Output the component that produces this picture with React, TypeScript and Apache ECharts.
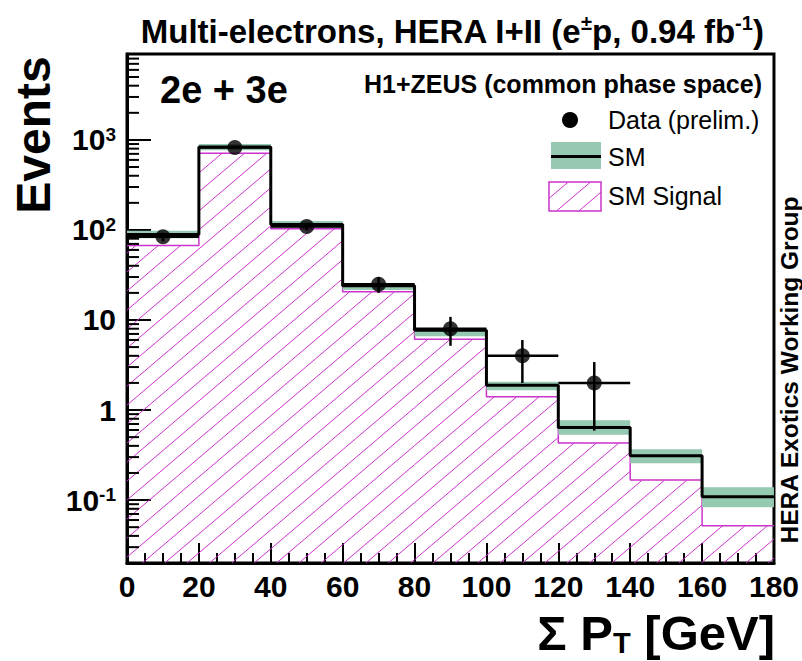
import React, { useEffect, useRef } from 'react';
import * as echarts from 'echarts';

// ---- data ----
const binEdges = [0, 20, 40, 60, 80, 100, 120, 140, 160, 180];
const smTotal = [89, 833, 115, 24, 7.7, 1.88, 0.64, 0.31, 0.109];
const smLow = [81, 770, 106, 21.5, 6.6, 1.66, 0.53, 0.256, 0.083];
const smHigh = [98, 900, 126, 25.5, 8.0, 2.06, 0.77, 0.366, 0.139];
const smSignal = [67, 711, 103, 20.6, 6.1, 1.4, 0.43, 0.167, 0.052];
const dataX = [10, 30, 50, 70, 90, 110, 130];
const dataY = [84, 825, 109, 25, 8, 4, 2];
const dataErr = [9.2, 28.7, 10.4, 5.0, 2.83, 2.0, 1.41];
const dataXErr = [10, 10, 10, 10, 10, 10, 10];
const yMajorLabels: Record<string, string> = {
  '-1': '{b|10}{s|-1}',
  '0': '{b|1}',
  '1': '{b|10}',
  '2': '{b|10}{s|2}',
  '3': '{b|10}{s|3}',
};

const Y_MIN = 0.02;
const Y_MAX = 9000;
const FONT = 'Liberation Sans, Arial, Helvetica, sans-serif';
const MAGENTA = '#cc33cc';
const GREEN = '#95c9b1';

// hatch geometry (pixel space), "///" lines
const HT = 0.85;
const HS = 19;
function hatchSegments(x0: number, x1: number, yT: number, yB: number) {
  const segs: number[][] = [];
  const kStart = Math.ceil((yT + HT * x0) / HS);
  const kEnd = Math.floor((yB + HT * x1) / HS);
  for (let k = kStart; k <= kEnd; k++) {
    const c = k * HS;
    const xa = Math.max(x0, (c - yB) / HT);
    const xb = Math.min(x1, (c - yT) / HT);
    if (xb - xa > 0.5) segs.push([xa, c - HT * xa, xb, c - HT * xb]);
  }
  return segs;
}

function minorTickValues() {
  const out: number[] = [];
  for (let e = -2; e <= 3; e++) {
    for (let m = 2; m <= 9; m++) {
      const v = m * Math.pow(10, e);
      if (v > Y_MIN * 1.01 && v < Y_MAX * 0.999) out.push(v);
    }
  }
  return out;
}

function stepData(vals: number[]) {
  const d = vals.map((v, i) => [binEdges[i], v]);
  d.push([binEdges[binEdges.length - 1], vals[vals.length - 1]]);
  return d;
}

export default function App() {
  const ref = useRef<HTMLDivElement>(null);
  useEffect(() => {
    if (!ref.current) return;
    const chart = echarts.init(ref.current, null, { renderer: 'svg' });

    const legendHatch = hatchSegments(549, 601, 182, 211).map((s) => ({
      type: 'line',
      shape: { x1: s[0], y1: s[1], x2: s[2], y2: s[3] },
      style: { stroke: MAGENTA, lineWidth: 1 },
      z: 100,
    }));

    const option: any = {
      animation: false,
      backgroundColor: '#fff',
      grid: {
        left: 127,
        right: 27,
        top: 54,
        bottom: 98,
        show: true,
        borderColor: '#000',
        borderWidth: 3,
        backgroundColor: 'transparent',
      },
      xAxis: {
        type: 'value',
        min: 0,
        max: 180,
        interval: 20,
        axisLine: { show: true, lineStyle: { color: '#000', width: 3 } },
        axisTick: { show: true, inside: true, length: 20, lineStyle: { color: '#000', width: 2 } },
        minorTick: { show: true, splitNumber: 4, length: 10, lineStyle: { color: '#000', width: 2 } },
        splitLine: { show: false },
        axisLabel: {
          fontSize: 30,
          fontWeight: 'bold',
          color: '#000',
          fontFamily: FONT,
          margin: 8,
        },
      },
      yAxis: {
        type: 'log',
        logBase: 10,
        min: Y_MIN,
        max: Y_MAX,
        axisLine: { show: true, lineStyle: { color: '#000', width: 3 } },
        axisTick: { show: true, inside: true, length: 24, lineStyle: { color: '#000', width: 2 } },
        splitLine: { show: false },
        axisLabel: {
          margin: 11,
          formatter: (v: number) => {
            const l = Math.log10(v);
            const r = Math.round(l);
            if (Math.abs(l - r) > 1e-6) return '';
            return yMajorLabels[String(r)] || '';
          },
          rich: {
            b: { fontSize: 30, fontWeight: 'bold', color: '#000', fontFamily: FONT, lineHeight: 30, verticalAlign: 'bottom' },
            s: { fontSize: 19, fontWeight: 'bold', color: '#000', fontFamily: FONT, lineHeight: 19, verticalAlign: 'top', padding: [0, 0, 4, 0] },
          },
        },
      },
      series: [
        {
          type: 'custom',
          name: 'hatch',
          z: 1,
          clip: true,
          data: smSignal.map((v, i) => [binEdges[i], binEdges[i + 1], v]),
          encode: { x: [0, 1], y: 2 },
          renderItem: (params: any, api: any) => {
            const x0 = api.value(0);
            const x1 = api.value(1);
            const v = api.value(2);
            const pL = api.coord([x0, v]);
            const pR = api.coord([x1, v]);
            const cs = params.coordSys;
            const yB = cs.y + cs.height;
            const segs = hatchSegments(pL[0], pR[0], pL[1], yB);
            return {
              type: 'group',
              children: segs.map((s) => ({
                type: 'line',
                shape: { x1: s[0], y1: s[1], x2: s[2], y2: s[3] },
                style: { stroke: MAGENTA, lineWidth: 1 },
              })),
            };
          },
        },
        {
          type: 'line',
          name: 'SM Signal',
          z: 2,
          step: 'end',
          symbol: 'none',
          data: stepData(smSignal),
          lineStyle: { color: MAGENTA, width: 1.5 },
        },
        {
          type: 'custom',
          name: 'band',
          z: 3,
          data: smTotal.map((v, i) => [binEdges[i], binEdges[i + 1], smLow[i], smHigh[i]]),
          encode: { x: [0, 1], y: [2, 3] },
          renderItem: (params: any, api: any) => {
            const p1 = api.coord([api.value(0), api.value(3)]);
            const p2 = api.coord([api.value(1), api.value(2)]);
            return {
              type: 'rect',
              shape: { x: p1[0], y: p1[1], width: p2[0] - p1[0], height: p2[1] - p1[1] },
              style: { fill: GREEN },
            };
          },
        },
        {
          type: 'line',
          name: 'SM',
          z: 4,
          step: 'end',
          symbol: 'none',
          data: stepData(smTotal),
          lineStyle: { color: '#000', width: 3 },
        },
        {
          type: 'custom',
          name: 'errors',
          z: 5,
          data: dataY.map((v, i) => [dataX[i], v, dataErr[i], dataXErr[i]]),
          encode: { x: 0, y: 1 },
          renderItem: (params: any, api: any) => {
            const x = api.value(0);
            const y = api.value(1);
            const e = api.value(2);
            const xe = api.value(3);
            const top = api.coord([x, y + e]);
            const bot = api.coord([x, y - e]);
            const l = api.coord([x - xe, y]);
            const r = api.coord([x + xe, y]);
            return {
              type: 'group',
              children: [
                { type: 'line', shape: { x1: top[0], y1: top[1], x2: bot[0], y2: bot[1] }, style: { stroke: '#000', lineWidth: 2.5 } },
                { type: 'line', shape: { x1: l[0], y1: l[1], x2: r[0], y2: r[1] }, style: { stroke: '#000', lineWidth: 2.5 } },
              ],
            };
          },
        },
        {
          type: 'scatter',
          name: 'Data (prelim.)',
          z: 6,
          symbol: 'circle',
          symbolSize: 15,
          itemStyle: { color: '#000' },
          data: dataY.map((v, i) => [dataX[i], v]),
        },
        {
          type: 'custom',
          name: 'minorTicks',
          z: 7,
          clip: false,
          data: minorTickValues().map((v) => [0, v]),
          encode: { x: 0, y: 1 },
          renderItem: (params: any, api: any) => {
            const p = api.coord([api.value(0), api.value(1)]);
            return {
              type: 'line',
              shape: { x1: p[0], y1: p[1], x2: p[0] + 12, y2: p[1] },
              style: { stroke: '#000', lineWidth: 2 },
            };
          },
        },
      ],
      graphic: [
        {
          type: 'text',
          x: 452,
          y: 30,
          style: {
            text: '{a|Multi-electrons, HERA I+II (e}{s|±}{a|p, 0.94 fb}{s|-1}{a|)}',
            align: 'center',
            verticalAlign: 'middle',
            rich: {
              a: { fontSize: 33, fontWeight: 'bold', fontFamily: FONT, fill: '#000', lineHeight: 35, verticalAlign: 'bottom' },
              s: { fontSize: 20, fontWeight: 'bold', fontFamily: FONT, fill: '#000', lineHeight: 20, verticalAlign: 'top' },
            },
          },
        },
        {
          type: 'text',
          x: 33,
          y: 135,
          rotation: Math.PI / 2,
          style: {
            text: 'Events',
            font: `bold 48px ${FONT}`,
            fill: '#000',
            align: 'center',
            verticalAlign: 'middle',
          },
        },
        {
          type: 'text',
          x: 775,
          y: 633,
          style: {
            text: '{a|Σ P}{t|T}{a| [GeV]}',
            align: 'right',
            verticalAlign: 'middle',
            rich: {
              a: { fontSize: 49, fontWeight: 'bold', fontFamily: FONT, fill: '#000', lineHeight: 49, verticalAlign: 'top' },
              t: { fontSize: 29, fontWeight: 'bold', fontFamily: FONT, fill: '#000', lineHeight: 29, verticalAlign: 'bottom', padding: [0, 0, 0, 0] },
            },
          },
        },
        {
          type: 'text',
          x: 160,
          y: 90,
          style: { text: '2e + 3e', font: `bold 38px ${FONT}`, fill: '#000', align: 'left', verticalAlign: 'middle' },
        },
        {
          type: 'text',
          x: 762,
          y: 84,
          style: { text: 'H1+ZEUS (common phase space)', font: `bold 25px ${FONT}`, fill: '#000', align: 'right', verticalAlign: 'middle' },
        },
        // legend: data
        { type: 'circle', shape: { cx: 570, cy: 120, r: 8 }, style: { fill: '#000' }, z: 100 },
        {
          type: 'text', x: 608, y: 120,
          style: { text: 'Data (prelim.)', font: `25px ${FONT}`, fill: '#000', align: 'left', verticalAlign: 'middle' },
        },
        // legend: SM
        { type: 'rect', shape: { x: 551, y: 142, width: 50, height: 27 }, style: { fill: GREEN }, z: 100 },
        { type: 'line', shape: { x1: 551, y1: 156.5, x2: 601, y2: 156.5 }, style: { stroke: '#000', lineWidth: 3 }, z: 101 },
        {
          type: 'text', x: 608, y: 157,
          style: { text: 'SM', font: `25px ${FONT}`, fill: '#000', align: 'left', verticalAlign: 'middle' },
        },
        // legend: SM signal
        ...legendHatch,
        { type: 'rect', shape: { x: 549, y: 182, width: 52, height: 29 }, style: { fill: 'none', stroke: MAGENTA, lineWidth: 1.5 }, z: 101 },
        {
          type: 'text', x: 608, y: 196,
          style: { text: 'SM Signal', font: `25px ${FONT}`, fill: '#000', align: 'left', verticalAlign: 'middle' },
        },
        {
          type: 'text',
          x: 789,
          y: 370,
          rotation: Math.PI / 2,
          style: {
            text: 'HERA Exotics Working Group',
            font: `bold 24.5px ${FONT}`,
            fill: '#000',
            align: 'center',
            verticalAlign: 'middle',
          },
        },
      ],
    };
    chart.setOption(option);
    return () => chart.dispose();
  }, []);
  return (
    <div
      ref={ref}
      style={{ position: 'fixed', left: 0, top: 0, width: 802, height: 661, background: '#fff' }}
    />
  );
}
